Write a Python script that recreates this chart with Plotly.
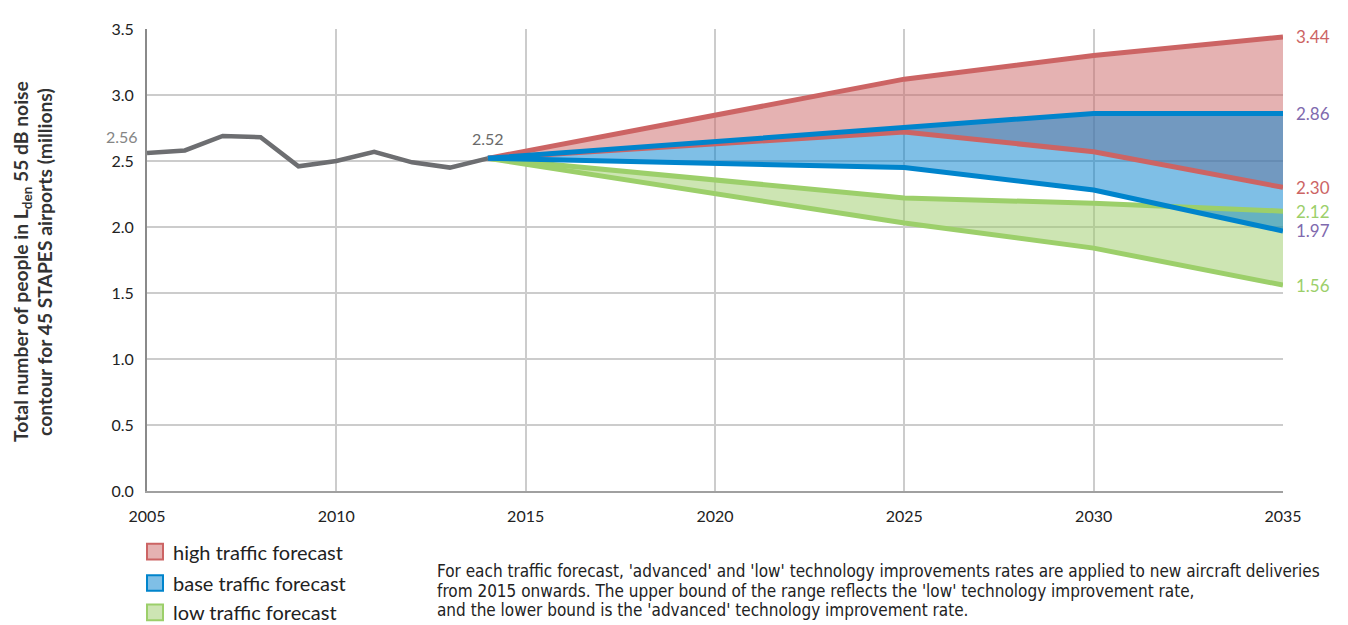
import plotly.graph_objects as go

# ---- data ----
hist_years = [2005, 2006, 2007, 2008, 2009, 2010, 2011, 2012, 2013, 2014]
hist_values = [2.56, 2.58, 2.69, 2.68, 2.46, 2.50, 2.57, 2.49, 2.45, 2.52]

fc_years = [2014, 2025, 2030, 2035]
high_upper = [2.52, 3.12, 3.30, 3.44]
high_lower = [2.52, 2.72, 2.57, 2.30]
base_upper = [2.52, 2.75, 2.86, 2.86]
base_lower = [2.52, 2.45, 2.28, 1.97]
low_upper = [2.52, 2.22, 2.18, 2.12]
low_lower = [2.52, 2.03, 1.84, 1.56]

x_ticks = [2005, 2010, 2015, 2020, 2025, 2030, 2035]
y_ticks = [0.0, 0.5, 1.0, 1.5, 2.0, 2.5, 3.0, 3.5]

legend_labels = ["high traffic forecast", "base traffic forecast", "low traffic forecast"]
footnote_lines = [
    "For each traffic forecast, 'advanced' and 'low' technology improvements rates are applied to new aircraft deliveries",
    "from 2015 onwards. The upper bound of the range reflects the 'low' technology improvement rate,",
    "and the lower bound is the 'advanced' technology improvement rate.",
]
y_title_lines = [
    "Total number of people in L<sub>den</sub> 55 dB noise",
    "contour for 45 STAPES airports (millions)",
]

# ---- styles ----
RED_LINE = "#cc6464"
BLUE_LINE = "#0084cc"
GREEN_LINE = "#9ccf6a"
RED_FILL = "rgba(204,102,102,0.5)"
BLUE_FILL = "rgba(0,128,205,0.5)"
GREEN_FILL = "rgba(155,203,103,0.5)"
GRAY = "#6d6e71"
PURPLE = "#7f6aae"
FONT = "Lato"
COND = "DejaVu Sans Condensed, Lato"

fig = go.Figure()


def band(upper, lower, fill):
    fig.add_trace(go.Scatter(x=fc_years, y=upper, mode="lines", line=dict(width=0),
                             hoverinfo="skip", showlegend=False))
    fig.add_trace(go.Scatter(x=fc_years, y=lower, mode="lines", line=dict(width=0),
                             fill="tonexty", fillcolor=fill, hoverinfo="skip", showlegend=False))


band(high_upper, high_lower, RED_FILL)
band(low_upper, low_lower, GREEN_FILL)
band(base_upper, base_lower, BLUE_FILL)

for ys, c in [(low_upper, GREEN_LINE), (low_lower, GREEN_LINE),
              (high_upper, RED_LINE), (high_lower, RED_LINE),
              (base_upper, BLUE_LINE), (base_lower, BLUE_LINE)]:
    fig.add_trace(go.Scatter(x=fc_years, y=ys, mode="lines", line=dict(color=c, width=5),
                             showlegend=False))

fig.add_trace(go.Scatter(x=hist_years, y=hist_values, mode="lines",
                         line=dict(color=GRAY, width=4.5), showlegend=False))

# end labels
end_labels = [
    (high_upper[-1], RED_LINE), (base_upper[-1], PURPLE), (high_lower[-1], RED_LINE),
    (low_upper[-1], GREEN_LINE), (base_lower[-1], PURPLE), (low_lower[-1], GREEN_LINE),
]
for v, c in end_labels:
    fig.add_annotation(x=fc_years[-1], y=v, text=f"{v:.2f}", showarrow=False,
                       xanchor="left", xshift=11, font=dict(family=FONT, size=17, color=c))

fig.add_annotation(x=hist_years[0], y=hist_values[0], text=f"{hist_values[0]:.2f}", showarrow=False,
                   xanchor="right", xshift=-7, yshift=17, font=dict(family=FONT, size=16, color="#858585"))
fig.add_annotation(x=hist_years[-1], y=hist_values[-1], text=f"{hist_values[-1]:.2f}", showarrow=False,
                   xanchor="center", yshift=20, font=dict(family=FONT, size=16, color="#6a6a6a"))


def px(sx):
    return (sx - 147) / 1136


def py(sy):
    return (491 - sy) / 472


# y title (two rotated lines)
for line, xc in zip(y_title_lines, [22, 45]):
    fig.add_annotation(xref="paper", yref="paper", x=px(xc), y=py(257), textangle=-90,
                       text=f"<b>{line}</b>", showarrow=False,
                       font=dict(family=FONT, size=19.3, color="#333333"),
                       xanchor="center", yanchor="middle")

# legend (custom)
leg_fill = [RED_FILL, BLUE_FILL, GREEN_FILL]
leg_line = [RED_LINE, BLUE_LINE, GREEN_LINE]
leg_y = [553, 585, 615]
for lab, f, l, yp in zip(legend_labels, leg_fill, leg_line, leg_y):
    fig.add_shape(type="rect", xref="paper", yref="paper",
                  x0=px(147), x1=px(163), y0=py(yp - 8), y1=py(yp + 8),
                  fillcolor=f, line=dict(color=l, width=2))
    fig.add_annotation(xref="paper", yref="paper", x=px(171), y=py(yp),
                       text=lab, showarrow=False, xanchor="left", yanchor="middle",
                       font=dict(family=FONT, size=20, color="#222222"))

for line, yc in zip(footnote_lines, [573, 593, 613]):
    fig.add_annotation(xref="paper", yref="paper", x=px(435), y=py(yc), text=line,
                       showarrow=False, xanchor="left", yanchor="middle", align="left",
                       font=dict(family=COND, size=17, color="#222222"))

# body margin of the page (8px) is compensated in the margins
fig.update_layout(
    width=1348, height=625,
    margin=dict(l=139, r=73, t=11, b=142),
    plot_bgcolor="white", paper_bgcolor="white",
    font=dict(family=FONT, size=16, color="#222222"),
    xaxis=dict(range=[2005, 2035], tickvals=x_ticks, ticktext=[str(t) for t in x_ticks],
               showgrid=True, gridcolor="#cccccc", gridwidth=1.5,
               showline=True, linecolor="#a0a0a0", linewidth=2, zeroline=False,
               ticks="", ticklabelstandoff=10, tickfont=dict(size=16, color="#222222")),
    yaxis=dict(range=[0, 3.5], tickvals=y_ticks, ticktext=[f"{t:.1f}" for t in y_ticks],
               showgrid=True, gridcolor="#cccccc", gridwidth=1.5,
               showline=True, linecolor="#8a8a8a", linewidth=2, zeroline=False,
               ticks="", ticklabelstandoff=8, tickfont=dict(size=16, color="#222222")),
    showlegend=False,
)

fig.write_html("out.html")
